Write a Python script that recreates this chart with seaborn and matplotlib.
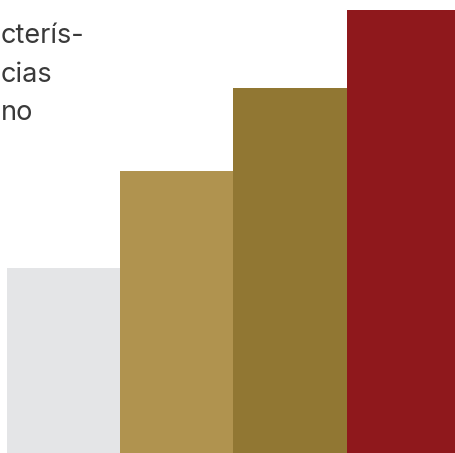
import matplotlib
matplotlib.use("Agg")
import matplotlib.pyplot as plt
import seaborn as sns
import pandas as pd

# Bar data
categories = ["A", "B", "C", "D"]
values = [41.8, 63.7, 82.4, 100.0]
colors = ["#e4e5e7", "#b0934f", "#917733", "#8f181c"]

# Wrapped text fragments, one per line
text_lines = ["cterís-", "cias", "no"]
text_base_px = [43, 82, 120]

sns.set_theme(style="white")
plt.rcParams["font.family"] = ["Inter", "DejaVu Sans"]

W, H = 456, 453
fig = plt.figure(figsize=(W / 100, H / 100), dpi=100)
ax = fig.add_axes([7 / W, 0, (460 - 7) / W, 443 / H])

df = pd.DataFrame({"cat": categories, "val": values})
sns.barplot(data=df, x="cat", y="val", hue="cat", palette=colors,
            width=1.0, saturation=1, linewidth=0, legend=False, ax=ax)
ax.set_xlim(-0.5, 3.5)
ax.set_ylim(0, 100)
ax.axis("off")

for txt, yb in zip(text_lines, text_base_px):
    fig.text(0.5 / W, 1 - yb / H, txt, ha="left", va="baseline",
             fontsize=19.5, color="#3a3a3a")

fig.savefig("out.png", dpi=100)
